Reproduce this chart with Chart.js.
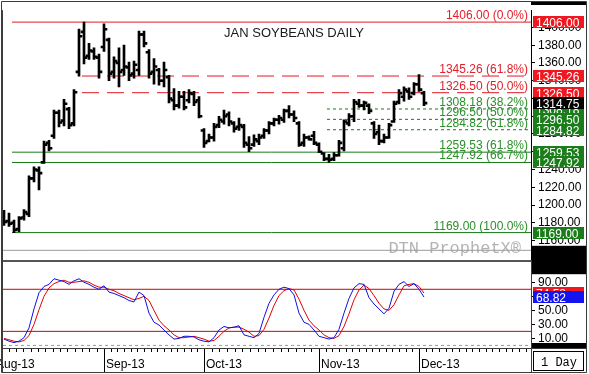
<!DOCTYPE html>
<html>
<head>
<meta charset="utf-8">
<script src="https://cdn.jsdelivr.net/npm/chart.js@4.4.1/dist/chart.umd.min.js"></script>
<style>
  body { margin: 0; background: #fff; }
  #wrap { position: relative; width: 589px; height: 374px; overflow: hidden; }
  canvas { position: absolute; left: 0; }
</style>
</head>
<body>
<div id="wrap">
  <canvas id="price-chart" width="589" height="260" style="top:0"></canvas>
  <canvas id="stoch-chart" width="589" height="114" style="top:260px"></canvas>
</div>
<script>
// daily bars, Aug 5 2013 .. Dec 3 2013 (index 0..84)
const highs = [1194, 1191, 1183, 1187, 1195, 1233, 1243, 1243, 1272, 1273, 1307, 1307, 1319, 1310, 1330, 1398, 1406, 1382, 1377, 1370,
  1404, 1388, 1367, 1377, 1380, 1361, 1362, 1396, 1396, 1375, 1365, 1354, 1361, 1346, 1331, 1328, 1328, 1330, 1328, 1322,
  1286, 1280, 1292, 1300, 1307, 1305, 1294, 1298, 1291, 1277, 1279, 1280, 1286, 1294, 1298, 1301, 1308, 1312, 1306, 1294, 1280, 1278, 1283,
  1270, 1259, 1257, 1259, 1273, 1296, 1303, 1319, 1319, 1317, 1314, 1294, 1290, 1280, 1292, 1317, 1330, 1333, 1332, 1338,
  1347, 1328];
const lows = [1177, 1176, 1169, 1170, 1183, 1187, 1226, 1217, 1247, 1261, 1275, 1288, 1289, 1286, 1289, 1345, 1359, 1364, 1364, 1343,
  1373, 1340, 1343, 1333, 1346, 1340, 1343, 1346, 1378, 1343, 1336, 1335, 1333, 1315, 1307, 1309, 1307, 1315, 1312, 1298,
  1265, 1271, 1272, 1287, 1291, 1289, 1282, 1284, 1265, 1260, 1266, 1268, 1275, 1280, 1289, 1291, 1293, 1298, 1294, 1266, 1266, 1273, 1268,
  1259, 1250, 1248, 1250, 1255, 1261, 1289, 1294, 1310, 1307, 1303, 1275, 1268, 1270, 1275, 1293, 1314, 1317, 1319, 1324,
  1328, 1312];
const opens = [1188, 1182, 1180, 1173, 1186, 1190, 1230, 1239, 1248, 1270, 1278, 1304, 1295, 1308, 1292, 1350, 1395, 1368, 1373, 1366,
  1378, 1386, 1350, 1360, 1352, 1355, 1348, 1352, 1392, 1372, 1350, 1352, 1340, 1344, 1318, 1312, 1322, 1318, 1325, 1318,
  1284, 1272, 1276, 1290, 1294, 1302, 1292, 1288, 1288, 1268, 1268, 1272, 1278, 1284, 1292, 1296, 1296, 1306, 1302, 1292, 1270, 1276, 1278,
  1268, 1258, 1252, 1252, 1256, 1264, 1292, 1300, 1314, 1312, 1312, 1292, 1282, 1272, 1276, 1294, 1316, 1322, 1328, 1326,
  1336, 1326];
const closes = [1181, 1179, 1172, 1185, 1192, 1230, 1240, 1236, 1268, 1264, 1304, 1293, 1314, 1290, 1327, 1390, 1366, 1374, 1367, 1350,
  1398, 1348, 1362, 1350, 1356, 1346, 1358, 1392, 1382, 1348, 1356, 1340, 1352, 1320, 1312, 1322, 1310, 1326, 1316, 1300,
  1270, 1276, 1288, 1296, 1300, 1294, 1286, 1290, 1270, 1264, 1274, 1276, 1284, 1292, 1296, 1298, 1306, 1302, 1298, 1268, 1276, 1274, 1270,
  1260, 1252, 1251, 1256, 1270, 1294, 1300, 1316, 1312, 1315, 1306, 1280, 1272, 1276, 1290, 1314, 1326, 1330, 1322, 1336,
  1330, 1314.75];

// slow stochastic
const stochK = [9, 6, 4, 6, 11, 25, 52, 75, 84, 87, 95, 93, 91, 87, 92, 95, 90, 87, 83, 80,
  85, 76, 74, 71, 68, 64, 62, 76, 71, 46, 33, 29, 22, 15, 9, 10, 13, 13, 12, 8,
  6, 5, 11, 22, 27, 25, 26, 28, 15, 13, 11, 17, 40, 60, 72, 80, 83, 81, 72, 46, 33, 30, 22,
  13, 11, 9, 11, 23, 46, 67, 82, 88, 87, 68, 59, 52, 45, 53, 77, 87, 91, 84, 88,
  80, 68.82];
const stochD = [10, 8, 6, 5, 7, 14, 30, 51, 70, 82, 88, 91, 93, 90, 90, 91, 92, 90, 86, 83,
  83, 80, 78, 74, 71, 68, 65, 67, 70, 64, 50, 36, 28, 22, 15, 11, 11, 12, 13, 11,
  9, 6, 7, 13, 20, 25, 26, 26, 23, 19, 13, 14, 23, 39, 57, 71, 78, 81, 79, 66, 50, 36, 28,
  22, 15, 11, 10, 14, 27, 45, 65, 79, 86, 81, 71, 60, 52, 50, 58, 72, 85, 87, 88,
  84, 74.58];

// month axis
const monthLabels = ['Aug-13', 'Sep-13', 'Oct-13', 'Nov-13', 'Dec-13'];
const monthStarts = [-2, 20, 40, 63, 83];

// retracement levels
const fibLevels = [1406.00, 1345.26, 1326.50, 1308.18, 1296.50, 1284.82, 1259.53, 1247.92, 1169.00];
const fibPcts = ['0.0%', '61.8%', '50.0%', '38.2%', '50.0%', '61.8%', '61.8%', '66.7%', '100.0%'];
const fibAnchors = [2, 16, 16, 65, 65, 65, 2, 2, 2];

const priceTicks = [1160, 1180, 1200, 1220, 1240, 1260, 1280, 1300, 1320, 1340, 1360, 1380, 1400];
const stochTicks = [10, 30, 50, 70, 90];
const stochBands = [80, 20];

const RED = '#e01b24';
const RED_TXT = '#e2202b';
const GREEN = '#197a19';
const GREEN_TXT = '#2a8f2a';
const FRAME = '#3c3c3c';
const FONT = '"Liberation Sans", Arial, sans-serif';
const X_MIN = -0.2, X_MAX = 105.4;
const MINOR_PER_MONTH = 15;

const fibStyles = [
  { line: RED, text: RED_TXT, box: '#f01820', dash: [] },
  { line: RED, text: RED_TXT, box: '#f01820', dash: [17, 8] },
  { line: RED, text: RED_TXT, box: '#f01820', dash: [17, 8] },
  { line: GREEN, text: GREEN_TXT, box: '#1a7d1a', dash: [3, 3] },
  { line: GREEN, text: GREEN_TXT, box: '#1a7d1a', dash: [3, 3] },
  { line: GREEN, text: GREEN_TXT, box: '#1a7d1a', dash: [3, 3] },
  { line: GREEN, text: GREEN_TXT, box: '#1a7d1a', dash: [] },
  { line: GREEN, text: GREEN_TXT, box: '#1a7d1a', dash: [] },
  { line: GREEN, text: GREEN_TXT, box: '#1a7d1a', dash: [] }
];

function drawBox(ctx, x, yc, bg, text) {
  ctx.fillStyle = bg;
  ctx.fillRect(x, Math.round(yc - 6), 51, 12);
  ctx.fillStyle = '#fff';
  ctx.fillText(text, x + 3, Math.round(yc) + 5);
}

const tick = v => ({ y: [v - 1.1, v + 1.1] });
const barStyle = { backgroundColor: '#000', barThickness: 2, borderWidth: 0, order: 1 };

const fibDatasets = fibLevels.map((lvl, k) => ({
  type: 'line',
  data: [{ x: fibAnchors[k] - 0.4, y: lvl }, { x: X_MAX, y: lvl }],
  borderColor: fibStyles[k].line,
  borderWidth: 1,
  borderDash: fibStyles[k].dash,
  pointRadius: 0,
  order: 5
}));

const priceDecor = {
  id: 'priceDecor',
  afterDatasetsDraw(chart) {
    const { ctx, chartArea, scales: { y } } = chart;
    ctx.save();
    ctx.font = '12px ' + FONT;
    ctx.textAlign = 'right';
    fibLevels.forEach((lvl, k) => {
      ctx.fillStyle = fibStyles[k].text;
      ctx.fillText(lvl.toFixed(2) + ' (' + fibPcts[k] + ')', chartArea.right - 3, Math.round(y.getPixelForValue(lvl)) - 3);
    });
    ctx.font = '13px ' + FONT;
    ctx.textAlign = 'center';
    ctx.fillStyle = '#1a1a1a';
    ctx.fillText('JAN SOYBEANS DAILY', 294, 37);
    ctx.font = '17px "Liberation Mono", monospace';
    ctx.textAlign = 'right';
    ctx.fillStyle = '#b4b4b4';
    ctx.fillText('DTN ProphetX\u00ae', 521, 253);
    ctx.restore();
  },
  afterDraw(chart) {
    const { ctx, chartArea, scales: { y } } = chart;
    const { left, top, right, bottom } = chartArea;
    ctx.save();
    ctx.font = '12px ' + FONT;
    ctx.textAlign = 'left';
    const lastClose = closes[closes.length - 1];
    let closeDrawn = false;
    fibLevels.forEach((lvl, k) => {
      drawBox(ctx, right + 2, y.getPixelForValue(lvl), fibStyles[k].box, lvl.toFixed(2));
      if (!closeDrawn && lvl < lastClose) {
        drawBox(ctx, right + 2, y.getPixelForValue(lastClose), '#000', lastClose.toFixed(2));
        closeDrawn = true;
      }
    });
    // black end bars of the price axis column
    ctx.fillStyle = '#000';
    ctx.fillRect(right, 2, chart.width - right - 3, 3);
    ctx.fillRect(right, bottom - 4, chart.width - right - 3, chart.height - bottom + 4);
    // frame
    ctx.strokeStyle = FRAME;
    ctx.lineWidth = 1;
    ctx.beginPath();
    ctx.moveTo(1.5, chart.height); ctx.lineTo(1.5, 1.5); ctx.lineTo(chart.width - 2.5, 1.5); ctx.lineTo(chart.width - 2.5, chart.height);
    ctx.moveTo(left - 0.5, top); ctx.lineTo(left - 0.5, chart.height);
    ctx.stroke();
    ctx.strokeStyle = '#9a9a9a';
    ctx.beginPath();
    ctx.moveTo(left, bottom + 0.5); ctx.lineTo(right, bottom + 0.5);
    ctx.stroke();
    ctx.restore();
  }
};

new Chart(document.getElementById('price-chart'), {
  type: 'bar',
  data: {
    datasets: [
      { ...barStyle, data: opens.map((v, i) => ({ x: i, ...tick(v) })) },
      { ...barStyle, data: highs.map((h, i) => ({ x: i, y: [lows[i], h] })) },
      { ...barStyle, data: closes.map((v, i) => ({ x: i, ...tick(v) })) },
      ...fibDatasets
    ]
  },
  options: {
    responsive: false,
    animation: false,
    layout: { padding: { left: 3, top: 3, right: 0, bottom: 1 } },
    plugins: { legend: { display: false }, tooltip: { enabled: false } },
    scales: {
      x: { type: 'linear', min: X_MIN, max: X_MAX, offset: false, display: false },
      y: {
        position: 'right',
        min: 1149.6,
        max: 1419.4,
        afterBuildTicks: s => { s.ticks = priceTicks.map(v => ({ value: v })); },
        afterFit: s => { s.width = 58; },
        ticks: { color: '#000', font: { family: FONT, size: 12 }, padding: 3, callback: v => v.toFixed(2) },
        grid: { drawOnChartArea: false, tickLength: 4, color: '#000' },
        border: { color: '#000' }
      }
    }
  },
  plugins: [priceDecor]
});

const stochDecor = {
  id: 'stochDecor',
  afterDraw(chart) {
    const { ctx, chartArea, scales: { x, y } } = chart;
    const { left, top, right, bottom } = chartArea;
    ctx.save();
    ctx.font = '12px ' + FONT;
    ctx.textAlign = 'left';
    drawBox(ctx, right + 2, y.getPixelForValue(stochD[stochD.length - 1]), '#f01820', stochD[stochD.length - 1].toFixed(2));
    drawBox(ctx, right + 2, y.getPixelForValue(stochK[stochK.length - 1]), '#1414f0', stochK[stochK.length - 1].toFixed(2));
    // black end bars of the stochastic axis column
    ctx.fillStyle = '#000';
    ctx.fillRect(right, 0, chart.width - right - 3, top + 4);
    ctx.fillRect(right, bottom - 5, chart.width - right - 3, 5);
    // panel separator
    ctx.fillStyle = '#555';
    ctx.fillRect(left, 0, right - left, 2);
    // month separators and minor ticks
    ctx.strokeStyle = '#000';
    ctx.lineWidth = 1;
    ctx.beginPath();
    monthStarts.forEach((m, k) => {
      const px = Math.round(x.getPixelForValue(m)) + 0.5;
      ctx.moveTo(px, bottom); ctx.lineTo(px, chart.height - 2);
      const last = k + 1 >= monthStarts.length;
      const next = last ? m + 20 : monthStarts[k + 1];
      const step = (next - m) / MINOR_PER_MONTH;
      const stop = last ? X_MAX : next - step / 2;
      for (let v = m + step; v < stop; v += step) {
        const p = Math.round(x.getPixelForValue(v)) + 0.5;
        if (p > left && p < right) { ctx.moveTo(p, bottom); ctx.lineTo(p, bottom + 4); }
      }
    });
    ctx.stroke();
    // frame
    ctx.strokeStyle = FRAME;
    ctx.beginPath();
    ctx.moveTo(1.5, 0); ctx.lineTo(1.5, chart.height - 1.5); ctx.lineTo(chart.width - 2.5, chart.height - 1.5); ctx.lineTo(chart.width - 2.5, 0);
    ctx.moveTo(left - 0.5, 0); ctx.lineTo(left - 0.5, chart.height - 1.5);
    ctx.moveTo(right + 0.5, 0); ctx.lineTo(right + 0.5, chart.height - 1.5);
    ctx.moveTo(left, bottom + 0.5); ctx.lineTo(chart.width - 2.5, bottom + 0.5);
    ctx.stroke();
    // interval box
    ctx.strokeStyle = '#000';
    ctx.strokeRect(right + 2.5, bottom + 3.5, 50, 19);
    ctx.font = '12px "Liberation Mono", monospace';
    ctx.fillStyle = '#000';
    ctx.fillText('1 Day', right + 10, bottom + 18);
    ctx.restore();
  }
};

new Chart(document.getElementById('stoch-chart'), {
  type: 'line',
  data: {
    datasets: [
      { data: stochK.map((v, i) => ({ x: i, y: v })), borderColor: '#1010e0', borderWidth: 1, pointRadius: 0, order: 1 },
      { data: stochD.map((v, i) => ({ x: i, y: v })), borderColor: '#e00000', borderWidth: 1, pointRadius: 0, order: 2 },
      ...stochBands.map(b => ({ data: [{ x: X_MIN, y: b }, { x: X_MAX, y: b }], borderColor: '#d00000', borderWidth: 1, pointRadius: 0, order: 3 })),
      { data: [{ x: X_MIN, y: 0 }, { x: X_MAX, y: 0 }], borderColor: '#999', borderWidth: 1, borderDash: [3, 3], pointRadius: 0, order: 4 }
    ]
  },
  options: {
    responsive: false,
    animation: false,
    layout: { padding: { left: 3, top: 2, right: 0, bottom: 0 } },
    plugins: { legend: { display: false }, tooltip: { enabled: false } },
    scales: {
      x: {
        type: 'linear',
        min: X_MIN,
        max: X_MAX,
        afterBuildTicks: s => { s.ticks = monthStarts.map(v => ({ value: v })); },
        afterFit: s => { s.height = 26; s.paddingLeft = 0; s.paddingRight = 0; },
        ticks: {
          autoSkip: false,
          maxRotation: 0,
          align: 'start',
          color: '#000',
          padding: 9,
          labelOffset: 2,
          font: { family: FONT, size: 12 },
          callback: v => monthLabels[monthStarts.indexOf(v)] || ''
        },
        grid: { drawOnChartArea: false, drawTicks: false },
        border: { display: false }
      },
      y: {
        position: 'right',
        min: -3.7,
        max: 107.2,
        afterBuildTicks: s => { s.ticks = stochTicks.map(v => ({ value: v })); },
        afterFit: s => { s.width = 58; },
        ticks: { color: '#000', font: { family: FONT, size: 12 }, padding: 3, callback: v => v.toFixed(2) },
        grid: { drawOnChartArea: false, tickLength: 4, color: '#000' },
        border: { color: '#000' }
      }
    }
  },
  plugins: [stochDecor]
});
</script>
</body>
</html>
